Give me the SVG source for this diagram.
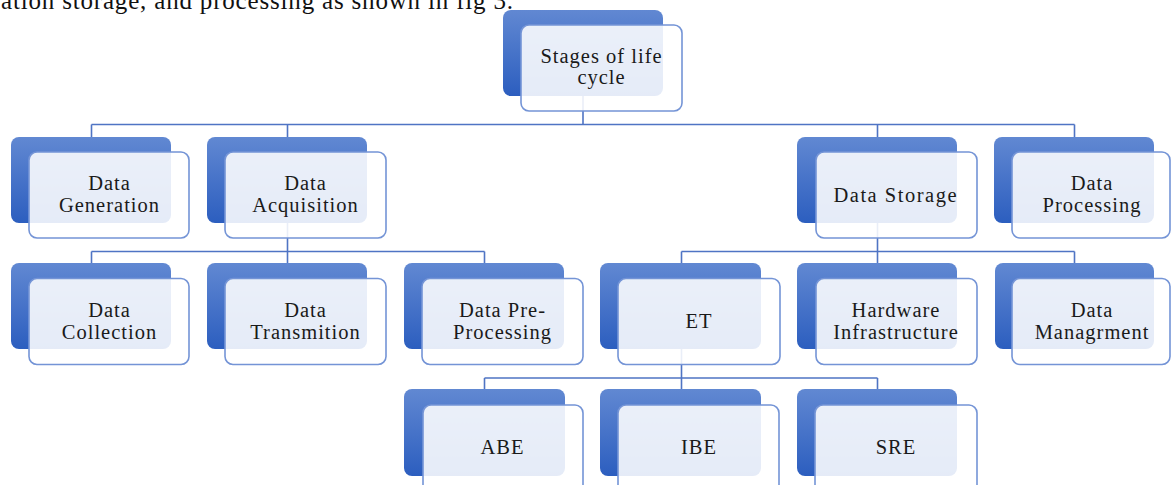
<svg xmlns="http://www.w3.org/2000/svg" width="1171" height="485" viewBox="0 0 1171 485">
<defs>
<linearGradient id="bg" x1="0" y1="0" x2="0" y2="1">
<stop offset="0" stop-color="#6188d2"/>
<stop offset="1" stop-color="#2c5ebf"/>
</linearGradient>
<style>
.back{fill:url(#bg);}
.front{fill:#ffffff;fill-opacity:0.88;stroke:#7494d6;stroke-width:1.6;}
.conn{fill:none;stroke:#4f74c4;stroke-width:1.6;}
.t{font-family:"Liberation Serif","Times New Roman",serif;font-size:20.5px;letter-spacing:1px;fill:#1a1a1a;text-anchor:middle;}
.body{font-family:"Liberation Serif","Times New Roman",serif;font-size:25px;fill:#111;}
</style>
</defs>
<rect width="1171" height="485" fill="#ffffff"/>
<text class="body" x="1" y="9" textLength="512" lengthAdjust="spacing">ation storage, and processing as shown in fig 3.</text>

<g id="connectors">
<path class="conn" d="M583,96 V124.5 M91.5,124.5 H1074.5 M91.5,124.5 V137 M287.5,124.5 V137 M877.5,124.5 V137 M1074.5,124.5 V137"/>
<path class="conn" d="M287.5,223 V251.5 M91.5,251.5 H484.5 M91.5,251.5 V263 M287.5,251.5 V263 M484.5,251.5 V263"/>
<path class="conn" d="M877.5,223 V251.5 M681.5,251.5 H1074.5 M681.5,251.5 V263 M877.5,251.5 V263 M1074.5,251.5 V263"/>
<path class="conn" d="M681.5,349 V378 M484.5,378 H877.5 M484.5,378 V389 M681.5,378 V389 M877.5,378 V389"/>
</g>

<g id="root">
<rect class="back" x="503" y="10" width="160" height="86" rx="8"/>
<rect class="front" x="521" y="25" width="161" height="86" rx="8"/>
<text class="t" x="601.5" y="62.5">Stages of life</text>
<text class="t" x="601.5" y="84">cycle</text>
</g>

<g id="data-generation">
<rect class="back" x="11" y="137" width="160" height="86" rx="8"/>
<rect class="front" x="29" y="152" width="160" height="86" rx="8"/>
<text class="t" x="109.5" y="190">Data</text>
<text class="t" x="109.5" y="212">Generation</text>
</g>

<g id="data-acquisition">
<rect class="back" x="207" y="137" width="160" height="86" rx="8"/>
<rect class="front" x="225" y="152" width="161" height="86" rx="8"/>
<text class="t" x="305.5" y="190">Data</text>
<text class="t" x="305.5" y="212">Acquisition</text>
</g>

<g id="data-storage">
<rect class="back" x="797" y="137" width="160" height="86" rx="8"/>
<rect class="front" x="816" y="152" width="161" height="86" rx="8"/>
<text class="t" x="895.5" y="201.5" textLength="124" lengthAdjust="spacing">Data Storage</text>
</g>

<g id="data-processing">
<rect class="back" x="994" y="137" width="160" height="86" rx="8"/>
<rect class="front" x="1012" y="152" width="158" height="86" rx="8"/>
<text class="t" x="1092" y="190">Data</text>
<text class="t" x="1092" y="212">Processing</text>
</g>

<g id="data-collection">
<rect class="back" x="11" y="263" width="160" height="86" rx="8"/>
<rect class="front" x="29" y="278.5" width="160" height="86" rx="8"/>
<text class="t" x="109.5" y="316.5">Data</text>
<text class="t" x="109.5" y="338.5">Collection</text>
</g>

<g id="data-transmition">
<rect class="back" x="207" y="263" width="160" height="86" rx="8"/>
<rect class="front" x="225" y="278.5" width="161" height="86" rx="8"/>
<text class="t" x="305.5" y="316.5">Data</text>
<text class="t" x="305.5" y="338.5">Transmition</text>
</g>

<g id="data-pre-processing">
<rect class="back" x="404" y="263" width="160" height="86" rx="8"/>
<rect class="front" x="422" y="278.5" width="161" height="86" rx="8"/>
<text class="t" x="502.5" y="316.5">Data Pre-</text>
<text class="t" x="502.5" y="338.5">Processing</text>
</g>

<g id="et">
<rect class="back" x="600" y="263" width="161" height="86" rx="8"/>
<rect class="front" x="618" y="278.5" width="162" height="86" rx="8"/>
<text class="t" x="699" y="328">ET</text>
</g>

<g id="hardware-infrastructure">
<rect class="back" x="797" y="263" width="160" height="86" rx="8"/>
<rect class="front" x="816" y="278.5" width="161" height="86" rx="8"/>
<text class="t" x="896" y="316.5">Hardware</text>
<text class="t" x="896" y="338.5">Infrastructure</text>
</g>

<g id="data-managment">
<rect class="back" x="995" y="263" width="159" height="86" rx="8"/>
<rect class="front" x="1012" y="278.5" width="158" height="86" rx="8"/>
<text class="t" x="1092" y="316.5">Data</text>
<text class="t" x="1092" y="338.5">Managrment</text>
</g>

<g id="abe">
<rect class="back" x="404" y="389" width="161" height="87" rx="8"/>
<rect class="front" x="423" y="405" width="160" height="90" rx="8"/>
<text class="t" x="502.5" y="454">ABE</text>
</g>

<g id="ibe">
<rect class="back" x="600" y="389" width="161" height="87" rx="8"/>
<rect class="front" x="618" y="405" width="161" height="90" rx="8"/>
<text class="t" x="699" y="454">IBE</text>
</g>

<g id="sre">
<rect class="back" x="797" y="389" width="160" height="87" rx="8"/>
<rect class="front" x="815" y="405" width="162" height="90" rx="8"/>
<text class="t" x="896" y="454">SRE</text>
</g>
</svg>
